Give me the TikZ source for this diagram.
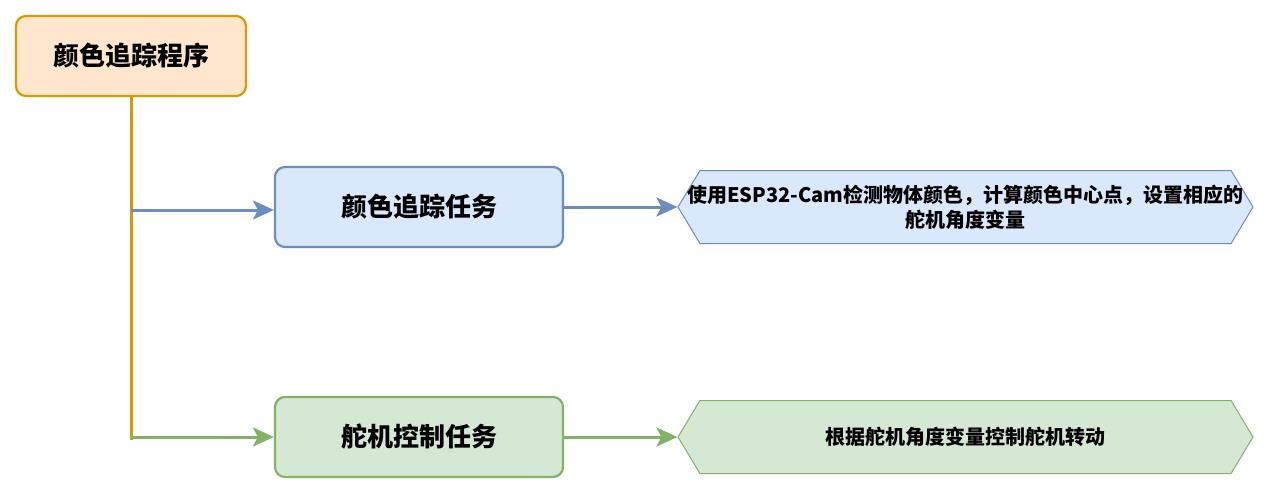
\documentclass[tikz,border=0pt]{standalone}
\usepackage{fontspec}
\setmainfont{Noto Sans CJK SC}
\usetikzlibrary{arrows.meta,shapes.symbols,calc}

\definecolor{rootfill}{HTML}{FFE6CC}
\definecolor{rootline}{HTML}{D79B00}
\definecolor{bluefill}{HTML}{DAE8FC}
\definecolor{blueline}{HTML}{6C8EBF}
\definecolor{greenfill}{HTML}{D5E8D4}
\definecolor{greenline}{HTML}{82B366}

\tikzset{
	taskbox/.style={draw,rounded corners=10pt,line width=2.2pt,minimum height=80pt,font=\bfseries\fontsize{26}{30}\selectfont},
	hexbox/.style={draw,signal,signal to=west and east,signal pointer angle=118,minimum width=575pt,minimum height=73pt,inner sep=0pt,line width=1pt,align=center,font=\bfseries\fontsize{20}{25}\selectfont},
	flow/.style={line width=3pt,-{Stealth[length=21pt,width=19pt,inset=5pt]}}
}

\begin{document}
\begin{tikzpicture}[x=1pt,y=-1pt]
	\useasboundingbox[fill=white] (0,0) rectangle (1268,492);
	% main program and the two tasks
	\node[taskbox,fill=rootfill,draw=rootline,minimum width=230pt] (root) at (131,56) {颜色追踪程序};
	\node[taskbox,fill=bluefill,draw=blueline,minimum width=288pt] (track) at (419,207) {颜色追踪任务};
	\node[taskbox,fill=greenfill,draw=greenline,minimum width=288pt] (servo) at (419,437) {舵机控制任务};
	% descriptions
	\node[hexbox,inner xsep=-14pt,fill=bluefill,draw=blueline] (trackdesc) at (965.5,207) {使用ESP32-Cam检测物体颜色，计算颜色中心点，设置相应的\\舵机角度变量};
	\node[hexbox,fill=greenfill,draw=greenline] (servodesc) at (965.5,437) {根据舵机角度变量控制舵机转动};
	% trunk
	\coordinate (trunkA) at (131,210);
	\coordinate (trunkB) at (131,437);
	\draw[rootline,line width=3pt] (root.south) -- ($(trunkB)+(0,3)$);
	\draw[flow,blueline] (trunkA) -- (track.west |- trunkA);
	\draw[flow,greenline] (trunkB) -- (servo.west);
	\draw[flow,blueline] (track.east) -- (trackdesc.west);
	\draw[flow,greenline] (servo.east) -- (servodesc.west);
\end{tikzpicture}
\end{document}
